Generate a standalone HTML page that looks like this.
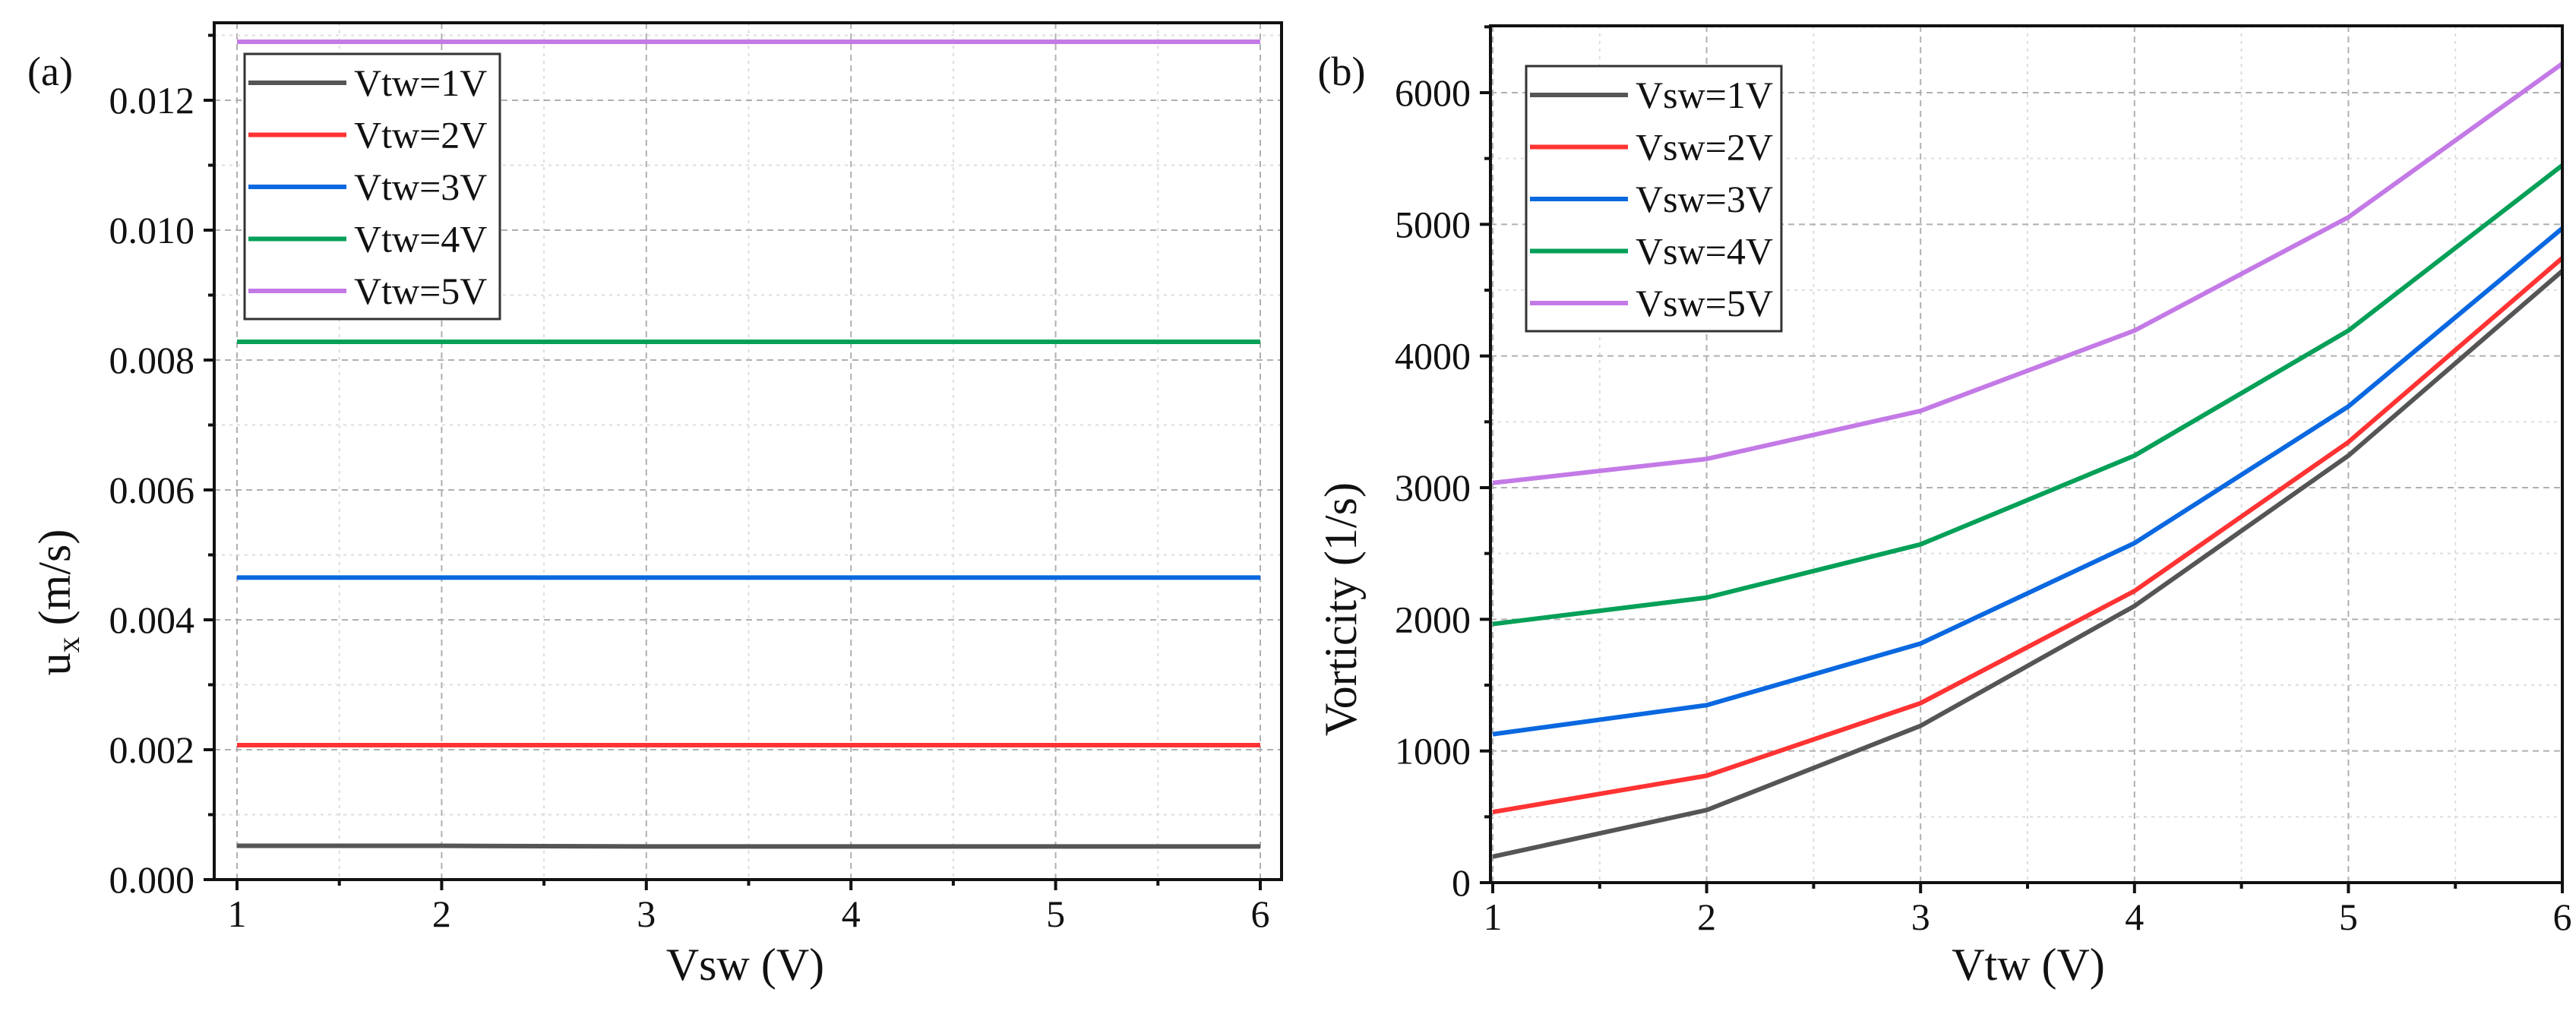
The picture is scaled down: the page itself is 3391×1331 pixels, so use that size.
<!DOCTYPE html>
<html><head><meta charset="utf-8"><style>
html,body{margin:0;padding:0;background:#fff;}
svg{display:block;font-family:"Liberation Serif",serif;}
</style></head><body>
<svg id="fig" width="3391" height="1331" viewBox="0 0 3391 1331" xmlns="http://www.w3.org/2000/svg"></svg>
<script>
// ---- data panel (a) ----
const aCategories = [1, 2, 3, 4, 5, 6];
const aSeriesNames = ["Vtw=1V", "Vtw=2V", "Vtw=3V", "Vtw=4V", "Vtw=5V"];
const aVtw1 = [0.00052, 0.00052, 0.00051, 0.00051, 0.00051, 0.00051];
const aVtw2 = [0.00207, 0.00207, 0.00207, 0.00207, 0.00207, 0.00207];
const aVtw3 = [0.00465, 0.00465, 0.00465, 0.00465, 0.00465, 0.00465];
const aVtw4 = [0.00828, 0.00828, 0.00828, 0.00828, 0.00828, 0.00828];
const aVtw5 = [0.0129, 0.0129, 0.0129, 0.0129, 0.0129, 0.0129];
const aYTicks = ["0.000", "0.002", "0.004", "0.006", "0.008", "0.010", "0.012"];
const aXTicks = ["1", "2", "3", "4", "5", "6"];
// ---- data panel (b) ----
const bCategories = [1, 2, 3, 4, 5, 6];
const bSeriesNames = ["Vsw=1V", "Vsw=2V", "Vsw=3V", "Vsw=4V", "Vsw=5V"];
const bVsw1 = [197, 551, 1191, 2101, 3243, 4646];
const bVsw2 = [536, 812, 1363, 2215, 3346, 4744];
const bVsw3 = [1127, 1348, 1816, 2579, 3617, 4970];
const bVsw4 = [1964, 2165, 2569, 3243, 4193, 5448];
const bVsw5 = [3036, 3218, 3583, 4193, 5054, 6220];
const bYTicks = ["0", "1000", "2000", "3000", "4000", "5000", "6000"];
const bXTicks = ["1", "2", "3", "4", "5", "6"];

const colors = ["#555555", "#ff3333", "#0a68e0", "#05a058", "#c47ae6"];
const NS = "http://www.w3.org/2000/svg";
const svg = document.getElementById("fig");
function mk(tag, attrs, parent) {
  const e = document.createElementNS(NS, tag);
  for (const k in attrs) e.setAttribute(k, attrs[k]);
  (parent || svg).appendChild(e);
  return e;
}

function panel(cfg) {
  const g = mk("g", {});
  
  
  const xs = v => cfg.x0 + (v - cfg.xmin) / (cfg.xmax - cfg.xmin) * (cfg.x1 - cfg.x0);
  const ys = v => cfg.yb - (v - cfg.ymin) / (cfg.ymaxTick - cfg.ymin) * (cfg.yb - cfg.yt);
  for (let v = cfg.xmin; v <= cfg.xmax + 1e-9; v += 0.5) {
    const major = Math.abs(v - Math.round(v)) < 1e-9;
    const l = mk("line", {x1: xs(v), x2: xs(v), y1: cfg.top, y2: cfg.yb, stroke: major ? "#b0b0b0" : "#dddddd", "stroke-width": 2, "stroke-dasharray": major ? "8,6" : "4,6"}, g);
    
    
  }
  const nY = cfg.yTicks.length - 1;
  for (let i = 0; i <= nY * 2 + 1; i++) {
    const v = cfg.ymin + i * cfg.ystep / 2;
    const y = ys(v);
    if (y < cfg.top) break;
    const major = i % 2 === 0;
    const l = mk("line", {x1: cfg.left, x2: cfg.right, y1: y, y2: y, stroke: major ? "#b0b0b0" : "#dddddd", "stroke-width": 2, "stroke-dasharray": major ? "8,6" : "4,6"}, g);
    
    
    const t = mk("line", {x1: cfg.left - (major ? 14 : 8), x2: cfg.left, y1: y, y2: y, stroke: "#111", "stroke-width": 4}, g);
    
    
  }
  cfg.series.forEach((s, i) => {
    const pts = s.map((v, j) => xs(cfg.cats[j]) + "," + ys(v)).join(" ");
    const p = mk("polyline", {points: pts, fill: "none", stroke: colors[i], "stroke-width": 6, "stroke-linejoin": "round"}, g);
    
    
  });
  const f = mk("rect", {x: cfg.left, y: cfg.top, width: cfg.right - cfg.left, height: cfg.yb - cfg.top, fill: "none", stroke: "#111", "stroke-width": 4}, g);
  
  
  for (let v = cfg.xmin; v <= cfg.xmax + 1e-9; v += 0.5) {
    const major = Math.abs(v - Math.round(v)) < 1e-9;
    const t = mk("line", {x1: xs(v), x2: xs(v), y1: cfg.yb, y2: cfg.yb + (major ? 14 : 8), stroke: "#111", "stroke-width": 4}, g);
    
    
  }
  cfg.xTicks.forEach((lab, i) => {
    const t = mk("text", {x: xs(cfg.cats[i]), y: cfg.yb + 62, "text-anchor": "middle", "font-size": 50, fill: "#111"}, g);
    t.textContent = lab;
    
    
  });
  cfg.yTicks.forEach((lab, i) => {
    const t = mk("text", {x: cfg.left - 26, y: ys(cfg.ymin + i * cfg.ystep) + 17, "text-anchor": "end", "font-size": 50, fill: "#111"}, g);
    t.textContent = lab;
    
    
  });
  const lg = mk("g", {}, g);
  
  
  const lb = mk("rect", {x: cfg.lgx, y: cfg.lgy, width: 336, height: 349, fill: "#fff", stroke: "#333", "stroke-width": 3}, lg);
  
  
  cfg.names.forEach((n, i) => {
    const y = cfg.lgy + 38 + i * 68.5;
    const e = mk("g", {}, lg);
    
    
    mk("line", {x1: cfg.lgx + 5, x2: cfg.lgx + 134, y1: y, y2: y, stroke: colors[i], "stroke-width": 6}, e);
    const t = mk("text", {x: cfg.lgx + 144, y: y + 17, "font-size": 50, fill: "#111"}, e);
    t.textContent = n;
  });
  const xt = mk("text", {x: cfg.xtx, y: 1290, "text-anchor": "middle", "font-size": 60, fill: "#111"}, g);
  xt.textContent = cfg.xTitle;
  
  
  const yt = mk("text", {x: 0, y: 0, "text-anchor": "middle", "font-size": 60, fill: "#111", transform: "translate(" + cfg.ytx + "," + cfg.yty + ") rotate(-90)"}, g);
  yt.innerHTML = cfg.yTitle;
  
  
  const pl = mk("text", {x: cfg.plx, y: 112, "text-anchor": "middle", "font-size": 54, fill: "#111"}, g);
  pl.textContent = cfg.panelLabel;
  
  
}

panel({name: "panel-a", left: 282, right: 1687, top: 30, yb: 1158, x0: 312, x1: 1659, xmin: 1, xmax: 6,
  ymin: 0, ystep: 0.002, ymaxTick: 0.012, yt: 132, cats: aCategories,
  series: [aVtw1, aVtw2, aVtw3, aVtw4, aVtw5], names: aSeriesNames, yTicks: aYTicks, xTicks: aXTicks,
  lgx: 322, lgy: 71, xTitle: "Vsw (V)", xtx: 981, ytx: 92, yty: 793,
  yTitle: 'u<tspan dy="12" font-size="42">x</tspan><tspan dy="-12"> (m/s)</tspan>', plx: 66, panelLabel: "(a)"});

panel({name: "panel-b", left: 1962, right: 3373, top: 34, yb: 1162, x0: 1965, x1: 3373, xmin: 1, xmax: 6,
  ymin: 0, ystep: 1000, ymaxTick: 6000, yt: 122, cats: bCategories,
  series: [bVsw1, bVsw2, bVsw3, bVsw4, bVsw5], names: bSeriesNames, yTicks: bYTicks, xTicks: bXTicks,
  lgx: 2009, lgy: 87, xTitle: "Vtw (V)", xtx: 2670, ytx: 1785, yty: 802,
  yTitle: 'Vorticity (1/s)', plx: 1766, panelLabel: "(b)"});
</script>
</body></html>
